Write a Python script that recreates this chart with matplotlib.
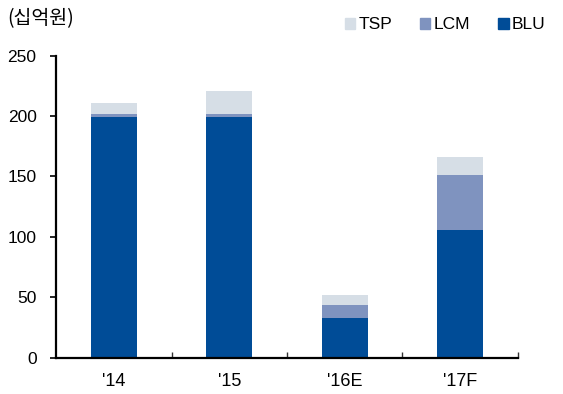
import matplotlib.pyplot as plt
from matplotlib.patches import Patch

plt.rcParams['font.family'] = ['Liberation Sans', 'Noto Sans CJK KR', 'DejaVu Sans']

years = ["'14", "'15", "'16E", "'17F"]
blu = [199, 199, 33, 106]
lcm = [3, 2.5, 10.5, 45]
tsp = [9, 19, 8, 15]

c_blu = '#004C97'
c_lcm = '#7F93BF'
c_tsp = '#D6DEE6'

fig = plt.figure(figsize=(5.63, 3.94), dpi=100)
ax = fig.add_axes([0.0995, 0.0924, 0.8205, 0.7662])

x = range(len(years))
w = 0.4
ax.bar(x, blu, w, color=c_blu, label='BLU')
ax.bar(x, lcm, w, bottom=blu, color=c_lcm, label='LCM')
bottom2 = [b + l for b, l in zip(blu, lcm)]
ax.bar(x, tsp, w, bottom=bottom2, color=c_tsp, label='TSP')

ax.set_xlim(-0.5, 3.5)
ax.set_ylim(0, 250)
ax.set_yticks(range(0, 251, 50))
ax.set_xticks([0.5, 1.5, 2.5, 3.5])
ax.set_xticklabels([])
ax.set_xticks(list(x), labels=years, minor=True)
ax.tick_params(axis='x', which='major', direction='in', length=4, width=1, color='#333333')
ax.tick_params(axis='x', which='minor', length=0, pad=11, labelsize=13)
ax.tick_params(axis='y', direction='out', length=4, width=1.2, labelsize=12.5, pad=10)

for s in ['top', 'right']:
    ax.spines[s].set_visible(False)
for s in ['left', 'bottom']:
    ax.spines[s].set_linewidth(1.6)

fig.text(0.012, 0.952, '(십억원)', fontsize=14, va='center', ha='left',
         family=['Noto Sans CJK KR', 'DejaVu Sans'])

handles = [Patch(color=c_tsp), Patch(color=c_lcm), Patch(color=c_blu)]
fig.legend(handles, ['TSP', 'LCM', 'BLU'], loc='center right', bbox_to_anchor=(0.985, 0.937),
           ncol=3, frameon=False, fontsize=12.5, handlelength=0.6, handleheight=0.6,
           handletextpad=0.2, columnspacing=1.6, borderpad=0)

fig.savefig('out.png', dpi=100)
